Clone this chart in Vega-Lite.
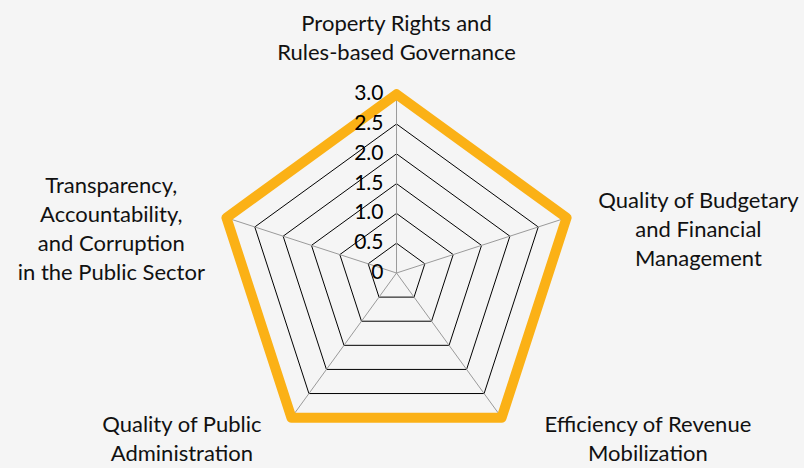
{
  "$schema": "https://vega.github.io/schema/vega-lite/v6.json",
  "width": 804,
  "height": 468,
  "autosize": {"type": "fit", "contains": "padding"},
  "padding": 0,
  "background": "#f5f5f5",
  "config": {"view": {"stroke": null}, "font": "Lato"},
  "datasets": {
    "scores": [
      {"i": 0, "dimension": "Property Rights and\nRules-based Governance", "score": 3.0},
      {"i": 1, "dimension": "Quality of Budgetary\nand Financial\nManagement", "score": 3.0},
      {"i": 2, "dimension": "Efficiency of Revenue\nMobilization", "score": 3.0},
      {"i": 3, "dimension": "Quality of Public\nAdministration", "score": 3.0},
      {"i": 4, "dimension": "Transparency,\nAccountability,\nand Corruption\nin the Public Sector", "score": 3.0}
    ],
    "rings": [
      {"level": 0.5, "spoke": [0, 1, 2, 3, 4]},
      {"level": 1.0, "spoke": [0, 1, 2, 3, 4]},
      {"level": 1.5, "spoke": [0, 1, 2, 3, 4]},
      {"level": 2.0, "spoke": [0, 1, 2, 3, 4]},
      {"level": 2.5, "spoke": [0, 1, 2, 3, 4]},
      {"level": 3.0, "spoke": [0, 1, 2, 3, 4]}
    ],
    "ticks": [
      {"level": 0, "label": "0"},
      {"level": 0.5, "label": "0.5"},
      {"level": 1.0, "label": "1.0"},
      {"level": 1.5, "label": "1.5"},
      {"level": 2.0, "label": "2.0"},
      {"level": 2.5, "label": "2.5"},
      {"level": 3.0, "label": "3.0"}
    ]
  },
  "encoding": {
    "x": {"field": "px", "type": "quantitative", "scale": {"domain": [-6.653, 6.837], "nice": false, "zero": false}, "axis": null},
    "y": {"field": "py", "type": "quantitative", "scale": {"domain": [-3.272, 4.581], "nice": false, "zero": false}, "axis": null}
  },
  "layer": [
    {
      "data": {"name": "rings"},
      "transform": [
        {"flatten": ["spoke"]},
        {"calculate": "datum.spoke * 2 * PI / 5", "as": "theta"},
        {"calculate": "datum.level * sin(datum.theta)", "as": "px"},
        {"calculate": "datum.level * cos(datum.theta)", "as": "py"}
      ],
      "mark": {"type": "line", "interpolate": "linear-closed", "stroke": "#000000", "strokeWidth": 1},
      "encoding": {
        "detail": {"field": "level", "type": "nominal"},
        "order": {"field": "spoke", "type": "quantitative"}
      }
    },
    {
      "data": {"name": "scores"},
      "transform": [
        {"calculate": "datum.i * 2 * PI / 5", "as": "theta"},
        {"calculate": "0", "as": "px"},
        {"calculate": "0", "as": "py"},
        {"calculate": "3 * sin(datum.theta)", "as": "px2"},
        {"calculate": "3 * cos(datum.theta)", "as": "py2"}
      ],
      "mark": {"type": "rule", "stroke": "#9a9a9a", "strokeWidth": 1},
      "encoding": {
        "x2": {"field": "px2"},
        "y2": {"field": "py2"}
      }
    },
    {
      "data": {"name": "scores"},
      "transform": [
        {"calculate": "datum.i * 2 * PI / 5", "as": "theta"},
        {"calculate": "datum.score * sin(datum.theta)", "as": "px"},
        {"calculate": "datum.score * cos(datum.theta)", "as": "py"}
      ],
      "mark": {"type": "line", "interpolate": "linear-closed", "stroke": "#FBB116", "strokeWidth": 10, "strokeJoin": "round"},
      "encoding": {
        "order": {"field": "i", "type": "quantitative"}
      }
    },
    {
      "data": {"name": "ticks"},
      "transform": [
        {"calculate": "0", "as": "px"},
        {"calculate": "datum.level", "as": "py"}
      ],
      "mark": {"type": "text", "align": "right", "baseline": "middle", "dx": -13, "fontSize": 21, "color": "#000000"},
      "encoding": {"text": {"field": "label", "type": "nominal"}}
    },
    {
      "data": {"name": "scores"},
      "transform": [
        {"calculate": "datum.i * 2 * PI / 5", "as": "theta"},
        {"calculate": "sin(datum.theta)", "as": "s"},
        {"calculate": "cos(datum.theta)", "as": "c"},
        {"calculate": "datum.s > 0.1 ? 1 : (datum.s < -0.1 ? -1 : 0)", "as": "side"},
        {"calculate": "split(datum.dimension, '\\n')", "as": "parts"},
        {"calculate": "length(datum.parts)", "as": "nlines"},
        {"calculate": "max(length(datum.parts[0]), length(datum.parts[1] || ''), length(datum.parts[2] || ''), length(datum.parts[3] || ''))", "as": "maxlen"},
        {"calculate": "2.566 * datum.s + datum.side * (0.805 + 0.084 * datum.maxlen) + abs(datum.side) * 0.14", "as": "px"},
        {"calculate": "3.431 * datum.c + 0.499 - 0.872 * abs(datum.s) + (datum.nlines - 1) * 0.2433", "as": "py"}
      ],
      "mark": {"type": "text", "align": "center", "baseline": "middle", "lineBreak": "\n", "lineHeight": 29, "fontSize": 22, "color": "#111111"},
      "encoding": {"text": {"field": "dimension", "type": "nominal"}}
    }
  ]
}
